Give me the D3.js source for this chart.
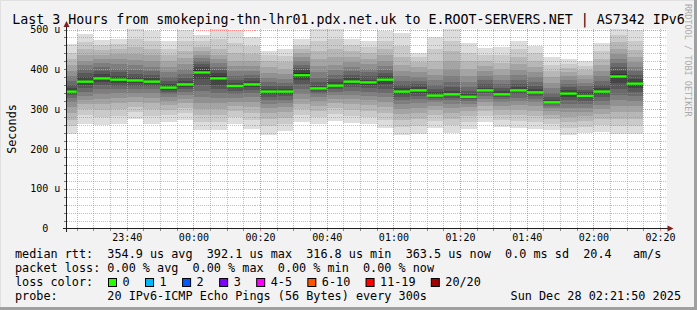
<!DOCTYPE html>
<html><head><meta charset="utf-8">
<script src="https://cdn.jsdelivr.net/npm/d3@7"></script>
<style>
html,body{margin:0;padding:0;background:#f2f2f2;}
svg{display:block;}
text{font-family:"DejaVu Sans Mono",monospace;white-space:pre;}
</style></head><body>
<svg id="c" width="697" height="310"></svg>
<script>
// ---------- data ----------
const title = "Last 3 Hours from smokeping-thn-lhr01.pdx.net.uk to E.ROOT-SERVERS.NET | AS7342 IPv6";
const yAxisTitle = "Seconds";
const yTicks = [0, 100, 200, 300, 400, 500];
const yTickLabels = ["0  ", "100 u", "200 u", "300 u", "400 u", "500 u"];
const xTickLabels = ["23:40","00:00","00:20","00:40","01:00","01:20","01:40","02:00","02:20"];
const rangeStart = "2025-12-27T23:21:50Z";
const rangeEnd   = "2025-12-28T02:21:50Z";
const barEnds = ["23:25","23:30","23:35","23:40","23:45","23:50","23:55",
  "00:00","00:05","00:10","00:15","00:20","00:25","00:30","00:35","00:40","00:45","00:50","00:55",
  "01:00","01:05","01:10","01:15","01:20","01:25","01:30","01:35","01:40","01:45","01:50","01:55",
  "02:00","02:05","02:10","02:15"];
const medians = [344,369,377,374,372,369,354,362,392,377,358,362,344,344,385,352,359,369,367,374,
  344,347,334,337,331,347,337,347,342,317,339,333,344,382,364];
// 20 sorted ping rtts (microseconds) per 5-minute step
const pings = [
 [237,258,272,290,305,318,328,335,340,343,347,352,360,370,383,395,410,425,442,463],
 [262,285,300,312,322,332,342,352,360,366,372,380,390,400,410,422,437,452,468,488],
 [259,280,298,312,325,338,350,360,368,374,380,387,395,405,415,425,437,448,460,473],
 [262,282,300,315,328,340,350,358,365,371,377,384,392,402,413,425,438,450,463,477],
 [275,292,305,318,330,340,350,358,365,370,374,380,388,398,410,423,438,455,475,505],
 [262,283,300,315,328,340,350,358,364,367,371,377,385,395,407,420,435,452,472,497],
 [268,285,298,310,320,330,337,343,348,352,356,362,370,380,392,405,420,435,452,470],
 [273,290,303,315,325,335,343,350,356,360,364,370,378,388,400,413,428,447,470,500],
 [248,268,285,300,315,330,345,360,375,387,397,405,413,420,428,437,447,457,470,485],
 [247,268,285,300,315,328,340,350,360,372,382,390,398,405,415,425,437,452,475,505],
 [262,280,295,308,318,328,337,345,352,356,360,366,374,384,395,408,422,440,465,500],
 [250,272,290,305,318,330,340,348,355,360,364,370,377,386,396,408,422,438,458,480],
 [236,258,275,290,302,313,322,330,337,342,346,351,358,367,378,390,405,420,435,447],
 [244,262,278,292,305,315,324,332,338,342,346,351,358,366,376,388,402,418,434,450],
 [268,285,300,313,325,338,350,362,372,380,390,397,404,412,420,430,440,450,462,475],
 [262,280,295,308,320,330,338,344,348,350,353,358,367,378,392,408,425,445,470,505],
 [270,288,302,315,326,336,344,350,355,357,361,367,375,385,398,412,430,450,475,510],
 [265,283,298,312,325,336,346,355,362,367,371,377,385,395,405,418,430,445,460,475],
 [262,280,296,310,322,334,344,352,360,364,368,374,382,392,402,414,427,440,455,471],
 [252,272,290,305,318,330,340,350,362,371,377,383,390,398,408,420,435,452,472,495],
 [236,256,272,288,300,312,322,330,337,342,346,352,360,370,382,396,412,430,458,492],
 [238,258,275,290,303,315,325,333,340,345,349,355,362,370,380,392,405,418,430,442],
 [252,270,285,297,308,317,324,329,332,333,336,342,350,360,372,386,402,422,450,480],
 [240,260,276,290,302,313,322,329,334,336,339,345,355,367,382,400,420,445,472,505],
 [250,268,282,294,305,313,320,325,328,330,333,338,346,356,368,383,400,420,442,467],
 [267,282,295,307,317,326,334,340,344,346,349,354,362,372,383,395,408,422,437,453],
 [256,272,286,298,308,317,325,331,334,336,339,345,352,362,373,386,400,415,435,457],
 [252,270,285,298,310,320,329,337,342,345,349,355,363,373,385,398,413,430,450,471],
 [250,268,283,296,307,317,326,333,338,340,344,350,358,368,380,393,407,422,440,459],
 [248,263,275,285,294,302,308,313,315,316,318,322,330,340,352,365,380,395,412,431],
 [234,252,267,280,292,303,313,322,330,336,342,348,355,363,372,382,392,403,414,425],
 [240,256,270,282,293,303,312,320,327,332,336,342,349,357,366,376,386,397,409,421],
 [242,260,275,288,300,311,321,330,337,342,346,352,360,370,382,395,410,427,446,467],
 [238,258,275,292,308,322,336,350,365,378,387,396,405,415,426,438,452,468,485,505],
 [238,258,275,292,307,320,332,343,352,360,368,376,385,395,406,418,432,448,470,500]
];
const lossLabels = ["0","1","2","3","4-5","6-10","11-19","20/20"];
const lossColors = ["#26ff00","#00b8ff","#0059ff","#7e00ff","#ff00ff","#ff5500","#ff0000","#a10000"];
const legendRows = [
  "median rtt:  354.9 us avg  392.1 us max  316.8 us min  363.5 us now  0.0 ms sd  20.4   am/s",
  "packet loss: 0.00 % avg  0.00 % max  0.00 % min  0.00 % now",
  "loss color:",
  "probe:       20 IPv6-ICMP Echo Pings (56 Bytes) every 300s"
];
const stamp = "Sun Dec 28 02:21:50 2025";
const watermark = "RRDTOOL / TOBI OETIKER";

// ---------- drawing ----------
const W = 697, H = 310;
const svg = d3.select("#c");
const toDate = s => { const [h, m] = s.split(":").map(Number);
  return new Date(Date.UTC(2025, 11, h >= 12 ? 27 : 28, h, m)); };
const t0 = new Date(rangeStart), t1 = new Date(rangeEnd);
const x = d3.scaleUtc().domain([t0, t1]).range([66.2, 666.2]);
const y = d3.scaleLinear().domain([0, 500]).range([228.5, 29.5]);
const X0 = 66.5, X1 = 666.5, YB = 228.5, YT = 29;

// background + 3D frame
svg.append("rect").attr("width", W).attr("height", H).attr("fill", "#f2f2f2");
svg.append("path").attr("d", `M0,0H${W}V1H1V${H}H0Z`).attr("fill", "#e0e0e0");
svg.append("path").attr("d", `M${W},${H}H0V${H-3}H${W-3}V0H${W}Z`).attr("fill", "#a0a0a0");

// canvas
svg.append("rect").attr("x", X0).attr("y", YT).attr("width", X1 - X0).attr("height", YB - YT).attr("fill", "#fff");

const defs = svg.append("defs");
defs.append("clipPath").attr("id", "pc").append("rect")
  .attr("x", X0).attr("y", YT).attr("width", X1 - X0 + 1).attr("height", YB - YT);

// smoke
const shades = d3.range(10).map(k => { const c = Math.floor(190 / 10 * (10 - (k + 1))) + 50; return d3.rgb(c, c, c).formatHex(); });
const bars = barEnds.map((e, i) => {
  const end = toDate(e); const start = new Date(Math.max(+t0, end - 300000));
  return { start, end, med: medians[i], p: pings[i] };
});
const smoke = svg.append("g").attr("clip-path", "url(#pc)").attr("shape-rendering", "crispEdges");
bars.forEach(b => {
  for (let k = 0; k < 10; k++) {
    const lo = b.p[k], hi = b.p[19 - k];
    smoke.append("rect").attr("x", x(b.start)).attr("width", x(b.end) - x(b.start))
      .attr("y", y(hi)).attr("height", y(lo) - y(hi)).attr("fill", shades[k]);
  }
});

// grid
const grid = svg.append("g").attr("shape-rendering", "crispEdges");
const minorV = x.ticks(d3.utcMinute.every(5));
const majorSet = new Set(xTickLabels.map(s => +toDate(s)));
minorV.forEach(t => {
  const px = Math.round(x(t)) + 0.5; const major = majorSet.has(+t);
  grid.append("line").attr("x1", px).attr("x2", px).attr("y1", YT).attr("y2", YB)
    .attr("stroke", major ? "#f58080" : "#8c8c8c").attr("stroke-opacity", major ? 0.9 : 0.55)
    .attr("stroke-dasharray", "1,1");
  grid.append("line").attr("x1", px).attr("x2", px).attr("y1", YB).attr("y2", YB + 2.5)
    .attr("stroke", major ? "#f58080" : "#8c8c8c");
});
d3.range(20, 501, 20).forEach(v => {
  const py = Math.round(y(v)) + 0.5; const major = v % 100 === 0;
  grid.append("line").attr("x1", X0).attr("x2", X1).attr("y1", py).attr("y2", py)
    .attr("stroke", major ? "#f58080" : "#8c8c8c").attr("stroke-opacity", major ? 0.9 : 0.55)
    .attr("stroke-dasharray", "1,1");
  grid.append("line").attr("x1", X0 - 3).attr("x2", X0).attr("y1", py).attr("y2", py)
    .attr("stroke", "#777");
});

// median lines
const med = svg.append("g").attr("clip-path", "url(#pc)");
bars.forEach(b => {
  med.append("rect").attr("x", x(b.start)).attr("width", x(b.end) - x(b.start))
    .attr("y", y(b.med) - 1.2).attr("height", 2.4).attr("fill", lossColors[0]);
});

// axes
const ax = svg.append("g");
ax.append("line").attr("x1", 63).attr("x2", 670).attr("y1", YB).attr("y2", YB).attr("stroke", "#1f1f1f").attr("shape-rendering", "crispEdges");
ax.append("line").attr("x1", X0).attr("x2", X0).attr("y1", 232).attr("y2", 26).attr("stroke", "#1f1f1f").attr("shape-rendering", "crispEdges");
ax.append("path").attr("d", `M667.5,225.5L673.5,228.5L667.5,231.5Z`).attr("fill", "#801f1f");
ax.append("path").attr("d", `M63.5,27L66.5,21L69.5,27Z`).attr("fill", "#801f1f");

// y tick labels
yTicks.forEach((v, i) => {
  svg.append("text").attr("x", 60.3).attr("y", y(v) + 3.6).attr("text-anchor", "end")
    .attr("font-size", 10).attr("xml:space", "preserve").text(yTickLabels[i]);
});
// x tick labels
xTickLabels.forEach(s => {
  svg.append("text").attr("x", x(toDate(s)) + 0.5).attr("y", 241).attr("text-anchor", "middle")
    .attr("font-size", 10).text(s);
});

// title
svg.append("text").attr("x", 348.5).attr("y", 23.5).attr("text-anchor", "middle").attr("font-size", 13.3).text(title);
// y axis title
svg.append("text").attr("transform", "translate(15.5,129) rotate(-90)").attr("text-anchor", "middle")
  .attr("font-size", 11.8).text(yAxisTitle);
// watermark
svg.append("text").attr("transform", "translate(685,4) rotate(90)").attr("font-size", 8.5)
  .attr("fill", "#ababab").text(watermark);

// legend
const rowsY = [257.8, 271.7, 285.6, 299.5];
legendRows.forEach((r, i) => {
  svg.append("text").attr("x", 15).attr("y", rowsY[i]).attr("font-size", 11.8)
    .attr("xml:space", "preserve").text(r);
});
let bx = 108.5;
lossLabels.forEach((l, i) => {
  svg.append("rect").attr("x", bx).attr("y", 278.5).attr("width", 8).attr("height", 8)
    .attr("fill", lossColors[i]).attr("stroke", "#000").attr("stroke-width", 1);
  svg.append("text").attr("x", bx + 14).attr("y", rowsY[2]).attr("font-size", 11.8).text(l);
  bx += 14 + l.length * 7.05 + 16;
});
svg.append("text").attr("x", 681).attr("y", rowsY[3]).attr("text-anchor", "end").attr("font-size", 11.8).text(stamp);
</script>
</body></html>
